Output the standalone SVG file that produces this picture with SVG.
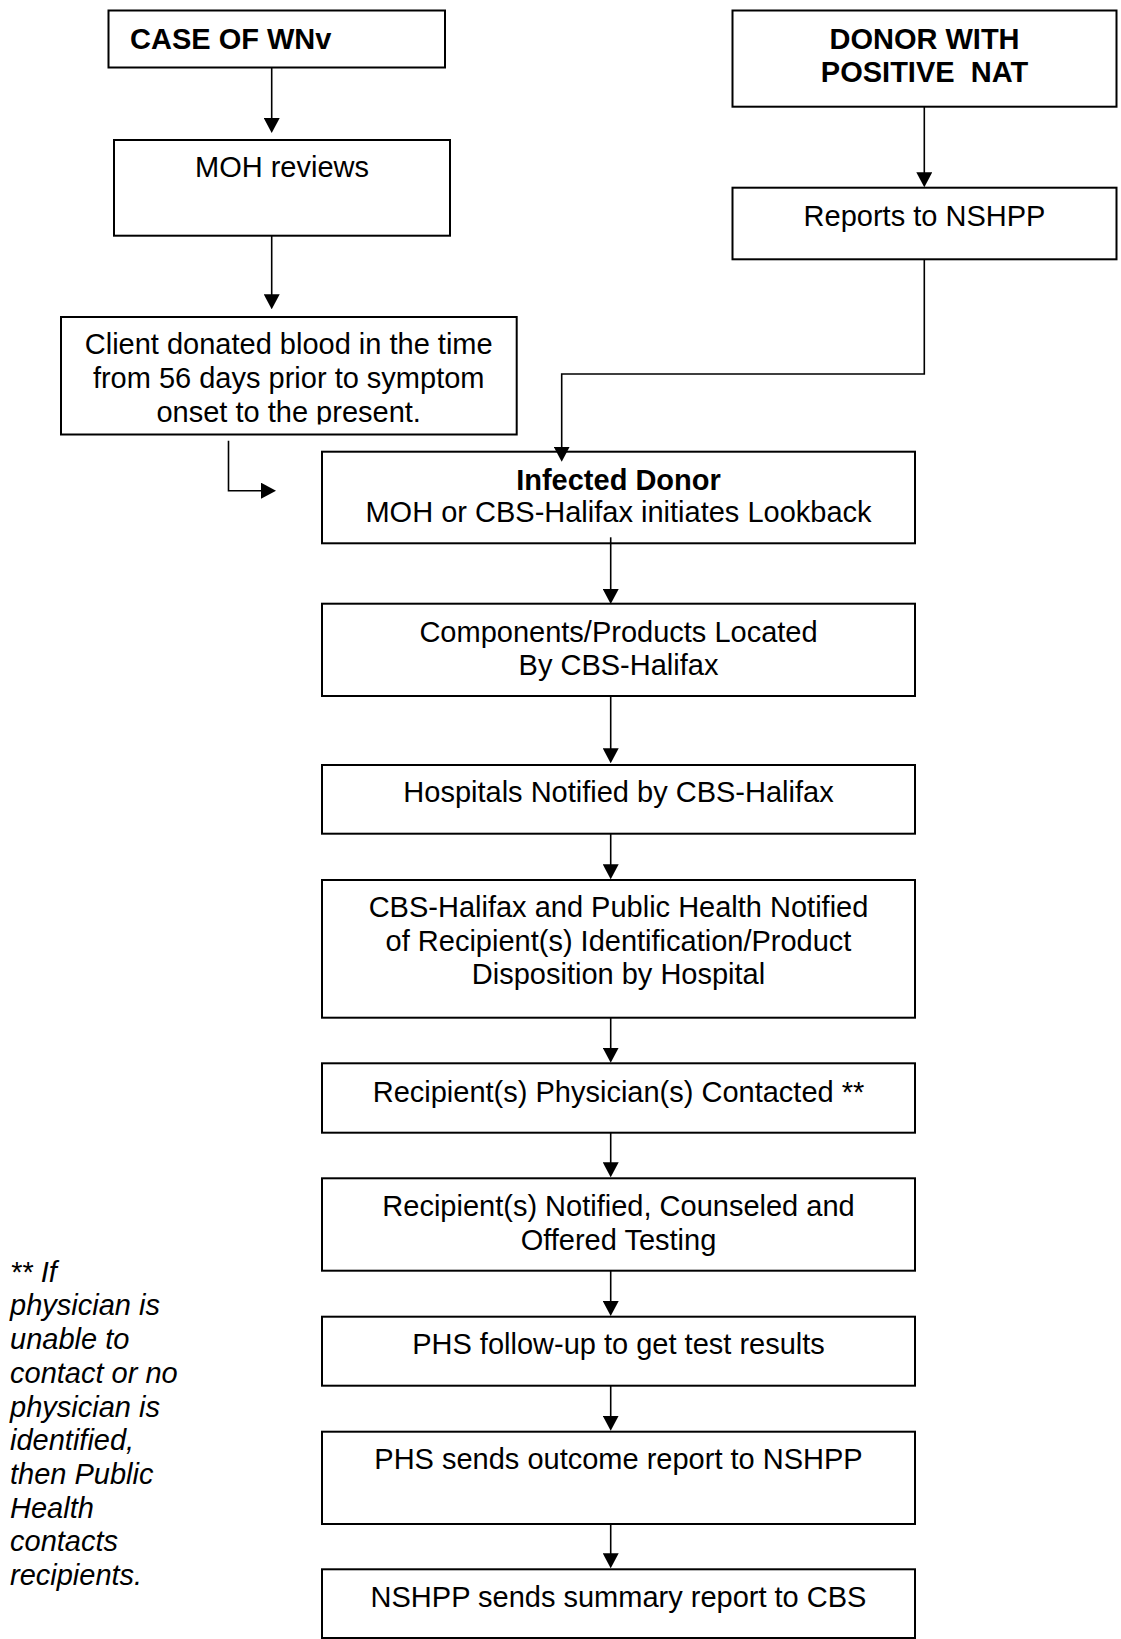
<svg xmlns="http://www.w3.org/2000/svg" width="1121" height="1639" viewBox="0 0 1121 1639">
<defs>
<style>
.box{fill:#fff;stroke:#000;stroke-width:2}
.t{font-family:"Liberation Sans",Arial,sans-serif;font-size:29px;fill:#000;text-anchor:middle}
.b{font-weight:bold}
.note{font-family:"Liberation Sans",Arial,sans-serif;font-size:29px;font-style:italic;fill:#000}
.c{fill:none;stroke:#000;stroke-width:1.6}
</style>
<marker id="ah" markerUnits="userSpaceOnUse" markerWidth="15" markerHeight="16" refX="5" refY="8" orient="auto">
<path d="M0,0 L15,8 L0,16 Z" fill="#000"/>
</marker>
<clipPath id="clipClient"><rect x="0" y="300" width="600" height="124.5"/></clipPath>
</defs>
<rect width="1121" height="1639" fill="#fff"/>

<g id="case">
<rect class="box" x="108.5" y="10.5" width="336.5" height="57"/>
<text class="t b" x="130" y="49.3" style="text-anchor:start">CASE OF WNv</text>
</g>

<g id="moh">
<rect class="box" x="114" y="140" width="336" height="95.7"/>
<text class="t" x="282" y="177.3">MOH reviews</text>
</g>

<g id="client">
<rect class="box" x="61" y="317" width="455.7" height="117.5"/>
<text class="t" x="288.7" y="354">Client donated blood in the time</text>
<text class="t" x="288.7" y="388">from 56 days prior to symptom</text>
<text class="t" x="288.7" y="421.7" clip-path="url(#clipClient)">onset to the present.</text>
</g>

<g id="donor">
<rect class="box" x="732.5" y="10.5" width="384" height="96.2"/>
<text class="t b" x="924.5" y="49">DONOR WITH</text>
<text class="t b" x="924.5" y="82.3" xml:space="preserve">POSITIVE  NAT</text>
</g>

<g id="reports">
<rect class="box" x="732.5" y="187.7" width="384" height="71.6"/>
<text class="t" x="924.5" y="225.7">Reports to NSHPP</text>
</g>

<g id="infected">
<rect class="box" x="322" y="451.7" width="593" height="91.6"/>
<text class="t b" x="618.5" y="490">Infected Donor</text>
<text class="t" x="618.5" y="521.7">MOH or CBS-Halifax initiates Lookback</text>
</g>

<g id="components">
<rect class="box" x="322" y="603.7" width="593" height="92.3"/>
<text class="t" x="618.5" y="641.7">Components/Products Located</text>
<text class="t" x="618.5" y="675">By CBS-Halifax</text>
</g>

<g id="hospitals">
<rect class="box" x="322" y="765" width="593" height="68.7"/>
<text class="t" x="618.5" y="801.7">Hospitals Notified by CBS-Halifax</text>
</g>

<g id="cbs">
<rect class="box" x="322" y="880" width="593" height="137.7"/>
<text class="t" x="618.5" y="917.3">CBS-Halifax and Public Health Notified</text>
<text class="t" x="618.5" y="950.7">of Recipient(s) Identification/Product</text>
<text class="t" x="618.5" y="984.3">Disposition by Hospital</text>
</g>

<g id="physician">
<rect class="box" x="322" y="1063.3" width="593" height="69.4"/>
<text class="t" x="618.5" y="1101.7">Recipient(s) Physician(s) Contacted **</text>
</g>

<g id="notified">
<rect class="box" x="322" y="1178.3" width="593" height="92.4"/>
<text class="t" x="618.5" y="1216">Recipient(s) Notified, Counseled and</text>
<text class="t" x="618.5" y="1250">Offered Testing</text>
</g>

<g id="phsfollow">
<rect class="box" x="322" y="1316.7" width="593" height="69"/>
<text class="t" x="618.5" y="1354.3">PHS follow-up to get test results</text>
</g>

<g id="phssends">
<rect class="box" x="322" y="1431.7" width="593" height="92.3"/>
<text class="t" x="618.5" y="1469.3">PHS sends outcome report to NSHPP</text>
</g>

<g id="nshpp">
<rect class="box" x="322" y="1569.3" width="593" height="68.7"/>
<text class="t" x="618.5" y="1607.3">NSHPP sends summary report to CBS</text>
</g>

<g id="note">
<text class="note" x="10" y="1281.7">** If</text>
<text class="note" x="10" y="1315.4">physician is</text>
<text class="note" x="10" y="1349.1">unable to</text>
<text class="note" x="10" y="1382.8">contact or no</text>
<text class="note" x="10" y="1416.5">physician is</text>
<text class="note" x="10" y="1450.2">identified,</text>
<text class="note" x="10" y="1483.9">then Public</text>
<text class="note" x="10" y="1517.6">Health</text>
<text class="note" x="10" y="1551.3">contacts</text>
<text class="note" x="10" y="1585">recipients.</text>
</g>

<g id="connectors">
<path class="c" d="M271.7,68 V123" marker-end="url(#ah)"/>
<path class="c" d="M271.7,236 V299.3" marker-end="url(#ah)"/>
<path class="c" d="M228.5,440.7 V490.7 H266" marker-end="url(#ah)"/>
<path class="c" d="M924.3,107 V177.3" marker-end="url(#ah)"/>
<path class="c" d="M924.3,259.3 V374 H561.7 V451.7" marker-end="url(#ah)"/>
<path class="c" d="M610.7,537.3 V594" marker-end="url(#ah)"/>
<path class="c" d="M610.7,696 V753.3" marker-end="url(#ah)"/>
<path class="c" d="M610.7,833.7 V869.3" marker-end="url(#ah)"/>
<path class="c" d="M610.7,1017.7 V1052.7" marker-end="url(#ah)"/>
<path class="c" d="M610.7,1132.7 V1167.3" marker-end="url(#ah)"/>
<path class="c" d="M610.7,1270.7 V1306" marker-end="url(#ah)"/>
<path class="c" d="M610.7,1385.7 V1420.7" marker-end="url(#ah)"/>
<path class="c" d="M610.7,1524 V1558.3" marker-end="url(#ah)"/>
</g>
</svg>
